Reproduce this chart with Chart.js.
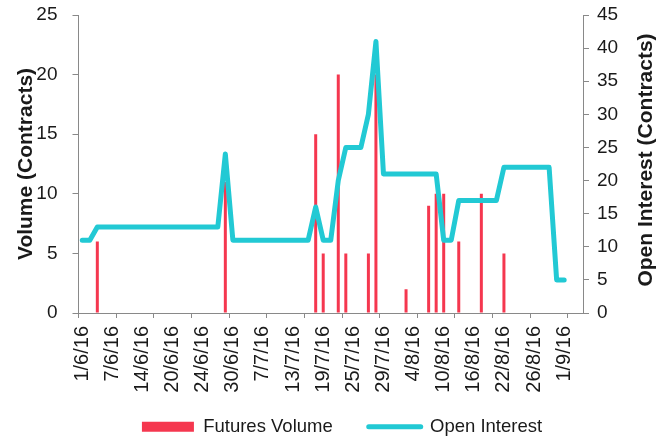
<!DOCTYPE html>
<html>
<head>
<meta charset="utf-8">
<script src="https://cdn.jsdelivr.net/npm/chart.js@4.4.1/dist/chart.umd.min.js"></script>
<style>
  html, body { margin: 0; padding: 0; background: #fff; }
</style>
</head>
<body>
<canvas id="chart" width="670" height="436"></canvas>
<script>
// trading days shown on the category axis
const dates = [
  '1/6/16', '2/6/16', '3/6/16', '6/6/16', '7/6/16', '8/6/16', '9/6/16', '10/6/16',
  '14/6/16', '15/6/16', '16/6/16', '17/6/16', '20/6/16', '21/6/16', '22/6/16', '23/6/16',
  '24/6/16', '27/6/16', '28/6/16', '29/6/16', '30/6/16', '1/7/16', '5/7/16', '6/7/16',
  '7/7/16', '8/7/16', '11/7/16', '12/7/16', '13/7/16', '14/7/16', '15/7/16', '18/7/16',
  '19/7/16', '20/7/16', '21/7/16', '22/7/16', '25/7/16', '26/7/16', '27/7/16', '28/7/16',
  '29/7/16', '1/8/16', '2/8/16', '3/8/16', '4/8/16', '5/8/16', '8/8/16', '9/8/16',
  '10/8/16', '11/8/16', '12/8/16', '15/8/16', '16/8/16', '17/8/16', '18/8/16', '19/8/16',
  '22/8/16', '23/8/16', '24/8/16', '25/8/16', '26/8/16', '29/8/16', '30/8/16', '31/8/16',
  '1/9/16', '2/9/16', '5/9/16'
];

const futuresVolume = [
  0, 0, 6, 0, 0, 0, 0, 0,
  0, 0, 0, 0, 0, 0, 0, 0,
  0, 0, 0, 11, 0, 0, 0, 0,
  0, 0, 0, 0, 0, 0, 0, 15,
  5, 0, 20, 5, 0, 0, 5, 20,
  0, 0, 0, 2, 0, 0, 9, 10,
  10, 0, 6, 0, 0, 10, 0, 0,
  5, 0, 0, 0, 0, 0, 0, 0,
  0, null, null
];

const openInterest = [
  11, 11, 13, 13, 13, 13, 13, 13,
  13, 13, 13, 13, 13, 13, 13, 13,
  13, 13, 13, 24, 11, 11, 11, 11,
  11, 11, 11, 11, 11, 11, 11, 16,
  11, 11, 20, 25, 25, 25, 30, 41,
  21, 21, 21, 21, 21, 21, 21, 21,
  11, 11, 17, 17, 17, 17, 17, 17,
  22, 22, 22, 22, 22, 22, 22, 5,
  5, null, null
];

const volumeTicks = [0, 5, 10, 15, 20, 25];
const interestTicks = [0, 5, 10, 15, 20, 25, 30, 35, 40, 45];

const volumeTitle = 'Volume (Contracts)';
const interestTitle = 'Open Interest (Contracts)';

const FONT = "'Liberation Sans', Arial, sans-serif";
const AXIS = '#898989';
const TEXT = '#1a1a1a';
const RED = '#F5374F';
const CYAN = '#22C9D4';

Chart.defaults.font.family = FONT;
Chart.defaults.color = TEXT;

// right axis title reads bottom-to-top like the left one
const rightTitle = {
  id: 'rightTitle',
  afterDraw(chart) {
    const { ctx, chartArea } = chart;
    ctx.save();
    ctx.translate(chart.scales.y1.right - 24, (chartArea.top + chartArea.bottom) / 2 - 4);
    ctx.rotate(-Math.PI / 2);
    ctx.font = 'bold 21px ' + FONT;
    ctx.fillStyle = TEXT;
    ctx.textAlign = 'center';
    ctx.textBaseline = 'middle';
    ctx.fillText(interestTitle, 0, 0);
    ctx.restore();
  }
};

// y axes: the big tick padding should not push the plot area down
const noEdgePadding = s => { s.paddingTop = 0; s.paddingBottom = 0; };

const ctx = document.getElementById('chart').getContext('2d');
new Chart(ctx, {
  data: {
    labels: dates,
    datasets: [
      {
        type: 'bar',
        label: 'Futures Volume',
        data: futuresVolume,
        backgroundColor: RED,
        barThickness: 3,
        inflateAmount: 0,
        yAxisID: 'y',
        order: 1
      },
      {
        type: 'line',
        label: 'Open Interest',
        data: openInterest,
        borderColor: CYAN,
        backgroundColor: CYAN,
        borderWidth: 5,
        pointRadius: 0,
        tension: 0,
        borderCapStyle: 'round',
        borderJoinStyle: 'round',
        yAxisID: 'y1',
        order: 0
      }
    ]
  },
  options: {
    responsive: false,
    animation: false,
    layout: { padding: { top: 15, right: 0, bottom: -10, left: 14 } },
    plugins: {
      tooltip: { enabled: false },
      legend: {
        position: 'bottom',
        labels: {
          usePointStyle: true,
          pointStyleWidth: 52,
          boxHeight: 10,
          padding: 36,
          color: TEXT,
          font: { size: 18.5 },
          sort: (a, b) => a.datasetIndex - b.datasetIndex,
          generateLabels(chart) {
            const items = Chart.defaults.plugins.legend.labels.generateLabels(chart);
            items.forEach(it => {
              if (it.datasetIndex === 0) {
                it.pointStyle = 'rect';
                it.fillStyle = RED;
                it.lineWidth = 0;
              } else {
                it.pointStyle = 'line';
                it.strokeStyle = CYAN;
                it.lineWidth = 5;
                it.lineCap = 'round';
              }
            });
            return items;
          }
        }
      }
    },
    scales: {
      x: {
        offset: true,
        grid: {
          offset: true,
          drawOnChartArea: false,
          tickLength: 5,
          color: c => (c.index % 5 === 0 ? AXIS : 'rgba(0,0,0,0)')
        },
        border: { color: AXIS },
        ticks: {
          autoSkip: false,
          minRotation: 90,
          maxRotation: 90,
          padding: 8,
          color: TEXT,
          font: { size: 20 },
          callback: (v, i) => (i % 4 === 0 ? dates[i] : '')
        },
        afterFit: s => {
          s.height = 68.5;
          // labels run into the legend band, so don't clip them to the axis box
          s._computeLabelArea = () => undefined;
        }
      },
      y: {
        position: 'left',
        min: volumeTicks[0],
        max: volumeTicks[volumeTicks.length - 1],
        ticks: { stepSize: volumeTicks[1] - volumeTicks[0], padding: 15, color: TEXT, font: { size: 19 } },
        grid: { drawOnChartArea: false, tickLength: 6, color: AXIS },
        border: { color: AXIS },
        title: {
          display: true,
          text: volumeTitle,
          color: TEXT,
          font: { size: 21, weight: 'bold' },
          padding: { top: 0, bottom: 0 }
        },
        afterFit: s => { s.width = 64.5; noEdgePadding(s); }
      },
      y1: {
        position: 'right',
        min: interestTicks[0],
        max: interestTicks[interestTicks.length - 1],
        ticks: { stepSize: interestTicks[1] - interestTicks[0], padding: 8, color: TEXT, font: { size: 19 } },
        grid: { drawOnChartArea: false, tickLength: 6, color: AXIS },
        border: { color: AXIS },
        afterFit: s => { s.width = 87; noEdgePadding(s); }
      }
    }
  },
  plugins: [rightTitle]
});
</script>
</body>
</html>
